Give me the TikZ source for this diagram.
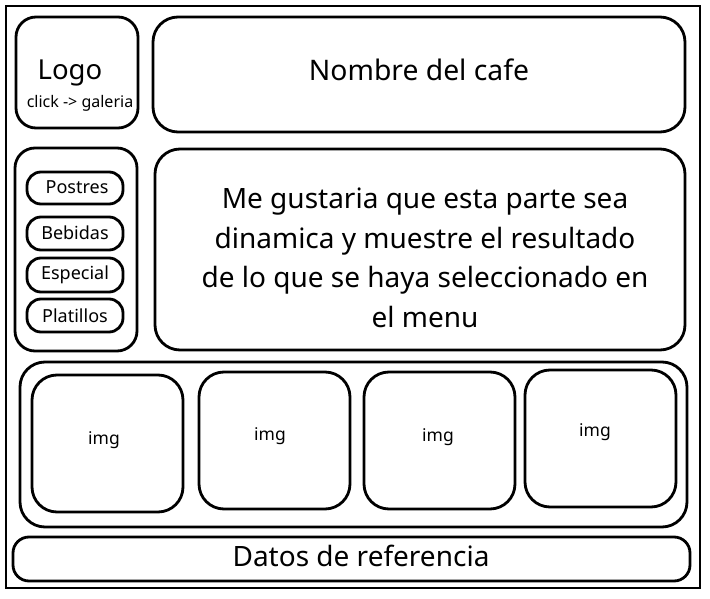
\documentclass[tikz,border=0pt]{standalone}
\usepackage{fontspec}
\setmainfont{Noto Sans}
\begin{document}
\begin{tikzpicture}[x=1pt,y=-1pt,
  box/.style={draw, line width=2.8pt, rounded corners=#1, inner sep=0pt},
  lbl/.style={inner sep=0pt, align=center},
  btn/.style={box=14pt, minimum width=96pt},
  imgbox/.style={box=25pt, minimum width=151pt, minimum height=137pt}]
\useasboundingbox (0,0) rectangle (710,599);
\node[draw, line width=2.8pt, inner sep=0pt, minimum width=694pt, minimum height=582pt] (outer) at (353,297) {};
% header
\node[box=20pt, minimum width=122pt, minimum height=111pt] (logo) at (77,72.5) {};
\node[lbl, font=\fontsize{27.5}{30}\selectfont] (logot) at (70,73) {Logo};
\node[lbl, font=\fontsize{16}{18}\selectfont] (clickt) at (80,103) {click -> galeria};
\node[box=25pt, minimum width=532pt, minimum height=115pt] (name) at (419,74.5) {};
\node[lbl, font=\fontsize{28.3}{32}\selectfont] (namet) at (419,70) {Nombre del cafe};
% menu
\node[box=20pt, minimum width=122pt, minimum height=203pt] (menu) at (76,249.5) {};
\node[btn, minimum height=32pt] (postres) at (75,188) {};
\node[btn, minimum height=33pt] (bebidas) at (75,233.5) {};
\node[btn, minimum height=34pt] (especial) at (75,275) {};
\node[btn, minimum height=33pt] (platillos) at (75,315.5) {};
\node[lbl, font=\fontsize{18}{20}\selectfont] (postrest) at (77,187) {Postres};
\node[lbl, font=\fontsize{18}{20}\selectfont] (bebidast) at (75,233) {Bebidas};
\node[lbl, font=\fontsize{18}{20}\selectfont] (especialt) at (75,275) {Especial};
\node[lbl, font=\fontsize{18}{20}\selectfont] (platillost) at (75,316) {Platillos};
% content
\node[box=25pt, minimum width=530pt, minimum height=201pt] (content) at (420,249.5) {};
\node[lbl, font=\fontsize{28}{39.5}\selectfont] (contentt) at (425,258) {Me gustaria que esta parte sea\\dinamica y muestre el resultado\\de lo que se haya seleccionado en\\el menu};
% gallery
\node[box=25pt, minimum width=667pt, minimum height=165pt] (gallery) at (353.5,444.5) {};
\node[imgbox] (img1) at (107.5,443.5) {};
\node[imgbox] (img2) at (274.5,440.5) {};
\node[imgbox] (img3) at (439.5,440.5) {};
\node[imgbox] (img4) at (600.5,438.5) {};
\node[lbl, font=\fontsize{17.5}{20}\selectfont] (img1t) at (104,440) {img};
\node[lbl, font=\fontsize{17.5}{20}\selectfont] (img2t) at (270,436) {img};
\node[lbl, font=\fontsize{17.5}{20}\selectfont] (img3t) at (438,437) {img};
\node[lbl, font=\fontsize{17.5}{20}\selectfont] (img4t) at (595,432) {img};
% footer
\node[box=16pt, minimum width=677pt, minimum height=44pt] (footer) at (351.5,559) {};
\node[lbl, font=\fontsize{28}{30}\selectfont] (footert) at (361,556) {Datos de referencia};
\end{tikzpicture}
\end{document}
